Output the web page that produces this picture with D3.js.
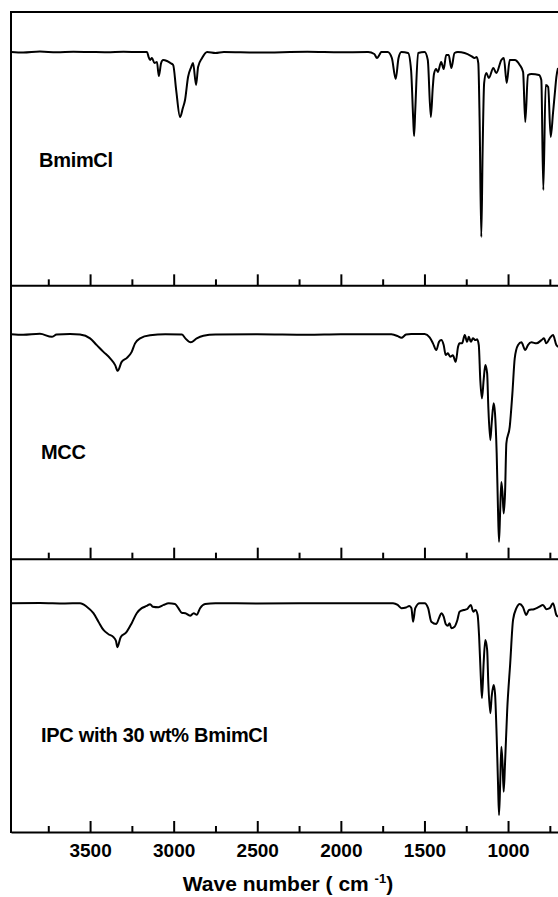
<!DOCTYPE html>
<html>
<head>
<meta charset="utf-8">
<script src="https://cdn.jsdelivr.net/npm/d3@7"></script>
<style>
  body { margin: 0; background: #fff; }
  text { font-family: "Liberation Sans", Arial, sans-serif; font-weight: bold; fill: #000; }
</style>
</head>
<body>
<svg id="chart"></svg>
<script>
// wave numbers (cm-1) and transmittance (a.u., 100 = baseline)
var bmimWn = [3972, 3900, 3800, 3700, 3600, 3500, 3400, 3300, 3200, 3159, 3150, 3141, 3130, 3115, 3100, 3089, 3075, 3063, 3040, 3020, 3003, 2985, 2962, 2945, 2932, 2914, 2895, 2884, 2866, 2854, 2830, 2800, 2750, 2700, 2500, 2200, 2000, 1837, 1800, 1784, 1770, 1758, 1720, 1695, 1672, 1655, 1638, 1598, 1580, 1567, 1562, 1555, 1538, 1499, 1480, 1462, 1450, 1443, 1430, 1420, 1400, 1385, 1370, 1355, 1339, 1320, 1300, 1260, 1220, 1200, 1188, 1178, 1170, 1160, 1152, 1143, 1130, 1115, 1088, 1070, 1040, 1025, 1008, 990, 960, 930, 910, 897, 881, 860, 815, 801, 789, 775, 760, 745, 731, 720, 711, 701];
var bmimT = [100, 99.8, 100.2, 99.9, 100.1, 100, 99.9, 100.1, 100, 100, 98, 96.8, 97.6, 95.6, 96, 90.4, 95.6, 96.8, 96.4, 95.6, 94.8, 84.8, 74, 77.6, 80.8, 90, 94, 95.6, 86.8, 94, 97.6, 100, 99.6, 100, 99.8, 100.1, 99.9, 100, 99.2, 97.6, 98.8, 100, 100, 97.6, 89.2, 97.6, 100, 99.6, 92.8, 72.8, 66.4, 76.8, 99.6, 100, 96.8, 74, 86, 91.2, 93.2, 92, 96, 93.2, 98.8, 98.8, 93.6, 99.6, 100, 99.6, 98.4, 97.6, 98, 95.6, 72.8, 26, 60.8, 87.6, 91.6, 89.6, 93.6, 91.6, 96.8, 97.6, 87.6, 96.8, 96.8, 94.8, 92, 72, 90.8, 91.2, 90.8, 88.8, 44.8, 86.8, 86, 66, 75.6, 83.6, 90, 93.6];

var mccWn = [3972, 3900, 3800, 3729, 3700, 3620, 3560, 3500, 3460, 3420, 3380, 3350, 3335, 3311, 3281, 3251, 3231, 3201, 3141, 3050, 2950, 2930, 2898, 2862, 2822, 2750, 2500, 2200, 2000, 1800, 1698, 1660, 1638, 1610, 1579, 1499, 1469, 1449, 1429, 1413, 1399, 1385, 1373, 1360, 1345, 1330, 1313, 1299, 1290, 1275, 1259, 1245, 1235, 1222, 1210, 1195, 1185, 1175, 1166, 1156, 1146, 1136, 1125, 1118, 1106, 1098, 1086, 1078, 1068, 1060, 1054, 1047, 1040, 1033, 1026, 1018, 1010, 990, 974, 960, 940, 920, 897, 881, 860, 830, 800, 785, 771, 751, 731, 711, 701];
var mccT = [100, 99.8, 100.2, 99, 99.9, 100.1, 99.9, 98.4, 95.7, 93, 90.4, 87.7, 85.4, 89, 90.5, 93, 96.4, 98.4, 99.6, 100, 99.9, 98.4, 96.8, 98.4, 99.4, 99.9, 100, 99.8, 100, 100, 100, 99.3, 98.6, 99.9, 100.1, 100.1, 98.8, 96.4, 93.7, 97, 97.7, 95.7, 91.7, 92.4, 91, 91.6, 89, 95, 96.4, 96.4, 99.7, 97, 99, 97, 98.4, 97.7, 98, 95.7, 81.7, 74.4, 81.7, 87.7, 84.4, 71, 57.7, 64.4, 72.4, 68.4, 52.4, 29.7, 17, 29.7, 41, 36.4, 28.4, 36.4, 56.4, 63, 76.4, 90.4, 95.7, 96.8, 93.7, 95.7, 96.8, 96.4, 97.7, 98.4, 96.4, 98.4, 99.7, 95.7, 95];

var ipcWn = [3972, 3800, 3650, 3560, 3520, 3480, 3450, 3420, 3390, 3360, 3345, 3337, 3317, 3285, 3251, 3221, 3191, 3161, 3141, 3125, 3091, 3060, 3030, 2992, 2972, 2952, 2930, 2902, 2880, 2862, 2842, 2812, 2750, 2500, 2000, 1800, 1688, 1660, 1638, 1610, 1590, 1578, 1568, 1555, 1529, 1499, 1478, 1459, 1429, 1413, 1399, 1385, 1373, 1360, 1350, 1339, 1320, 1303, 1290, 1265, 1245, 1223, 1208, 1195, 1182, 1173, 1163, 1156, 1146, 1136, 1125, 1118, 1106, 1098, 1086, 1078, 1068, 1060, 1054, 1047, 1040, 1033, 1026, 1018, 1005, 987, 970, 950, 930, 911, 891, 875, 845, 815, 791, 771, 751, 731, 711, 701];
var ipcT = [100, 100.1, 99.9, 100, 98.6, 96, 92.6, 89.3, 87.6, 86.4, 84.9, 82.4, 86.4, 88.2, 92, 96, 98, 98.9, 99.6, 98.6, 98.4, 99.3, 100, 99.7, 98, 96.2, 96, 95, 96, 95.4, 98, 99.7, 100, 99.9, 100, 100, 100, 99.3, 98, 98.3, 98.9, 98, 92.6, 98, 100, 100, 98, 92.6, 91.7, 94, 96, 94.6, 91.7, 91, 92, 90, 90.6, 93.3, 96.6, 97.3, 97.6, 99.3, 96.6, 97.3, 95.3, 86.6, 70.6, 62, 76, 85.3, 81.3, 68, 56, 62.6, 67.3, 64, 46.6, 28, 15.3, 28, 42.6, 36, 24.6, 36, 57.3, 76, 93.3, 98, 99.7, 98.5, 95.3, 97.3, 97.6, 98.5, 99.3, 97.6, 98, 100, 95.3, 94.6];

var sampleNames = ["BmimCl", "MCC", "IPC with 30 wt% BmimCl"];
var yDomains = [[6.7, 116], [10.3, 119.6], [8.5, 117.8]];
var majorTicks = [3500, 3000, 2500, 2000, 1500, 1000];
var minorTicks = [3750, 3250, 2750, 2250, 1750, 1250, 750];

var width = 558, height = 897;
var left = 11, top0 = 12, bottom0 = 832;
var panelH = (bottom0 - top0) / 3;

var svg = d3.select("#chart").attr("width", width).attr("height", height);

var x = d3.scaleLinear()
    .domain([3973, 700])
    .range([left, 558.2]);

var series = [
  {wn: bmimWn, t: bmimT, labelX: 39, labelY: 167},
  {wn: mccWn, t: mccT, labelX: 41, labelY: 459},
  {wn: ipcWn, t: ipcT, labelX: 41, labelY: 742}
];

series.forEach(function(s, i) {
  var top = top0 + i * panelH,
      bottom = top + panelH;

  var y = d3.scaleLinear()
      .domain(yDomains[i])
      .range([bottom, top]);

  svg.append("clipPath").attr("id", "clip" + i)
    .append("rect")
    .attr("x", left).attr("y", top)
    .attr("width", width - left).attr("height", panelH);

  var pts = s.wn.map(function(w, j) { return [w, s.t[j]]; });

  var line = d3.line()
      .x(function(d) { return x(d[0]); })
      .y(function(d) { return y(d[1]); })
      .curve(d3.curveMonotoneX);

  svg.append("path")
    .datum(pts)
    .attr("clip-path", "url(#clip" + i + ")")
    .attr("fill", "none")
    .attr("stroke", "#000")
    .attr("stroke-width", 2)
    .attr("stroke-linejoin", "round")
    .attr("d", line);

  svg.append("text")
    .attr("x", s.labelX)
    .attr("y", s.labelY)
    .style("font-size", "20px")
    .style("letter-spacing", "-0.3px")
    .text(sampleNames[i]);

  // bottom axis of each panel, ticks pointing inward
  var ax = svg.append("g")
      .attr("transform", "translate(0," + bottom + ")")
      .call(d3.axisBottom(x)
        .tickValues(majorTicks)
        .tickSizeInner(-11)
        .tickSizeOuter(0)
        .tickPadding(11.5)
        .tickFormat(i == 2 ? d3.format("d") : function() { return ""; }));
  ax.select(".domain").attr("stroke-width", 2);
  ax.selectAll(".tick line").attr("stroke-width", 2);
  ax.selectAll(".tick text")
    .style("font-size", "19px")
    .style("font-family", "'Liberation Sans', Arial, sans-serif")
    .style("font-weight", "bold")
    .attr("fill", "#000");

  var mx = svg.append("g")
      .attr("transform", "translate(0," + bottom + ")")
      .call(d3.axisBottom(x)
        .tickValues(minorTicks)
        .tickSizeInner(-6)
        .tickSizeOuter(0)
        .tickFormat(""));
  mx.select(".domain").remove();
  mx.selectAll(".tick line").attr("stroke-width", 2);
});

// top and left frame lines
svg.append("line")
  .attr("x1", left).attr("x2", width)
  .attr("y1", top0).attr("y2", top0)
  .attr("stroke", "#000").attr("stroke-width", 2);
svg.append("line")
  .attr("x1", left).attr("x2", left)
  .attr("y1", top0 - 1).attr("y2", bottom0 + 1)
  .attr("stroke", "#000").attr("stroke-width", 2);

var title = svg.append("text")
    .attr("x", 288)
    .attr("y", 891)
    .attr("text-anchor", "middle")
    .style("font-size", "21px");
title.append("tspan").text("Wave number ( cm ");
title.append("tspan").attr("dy", -8).style("font-size", "13px").text("-1");
title.append("tspan").attr("dy", 8).text(")");
</script>
</body>
</html>
